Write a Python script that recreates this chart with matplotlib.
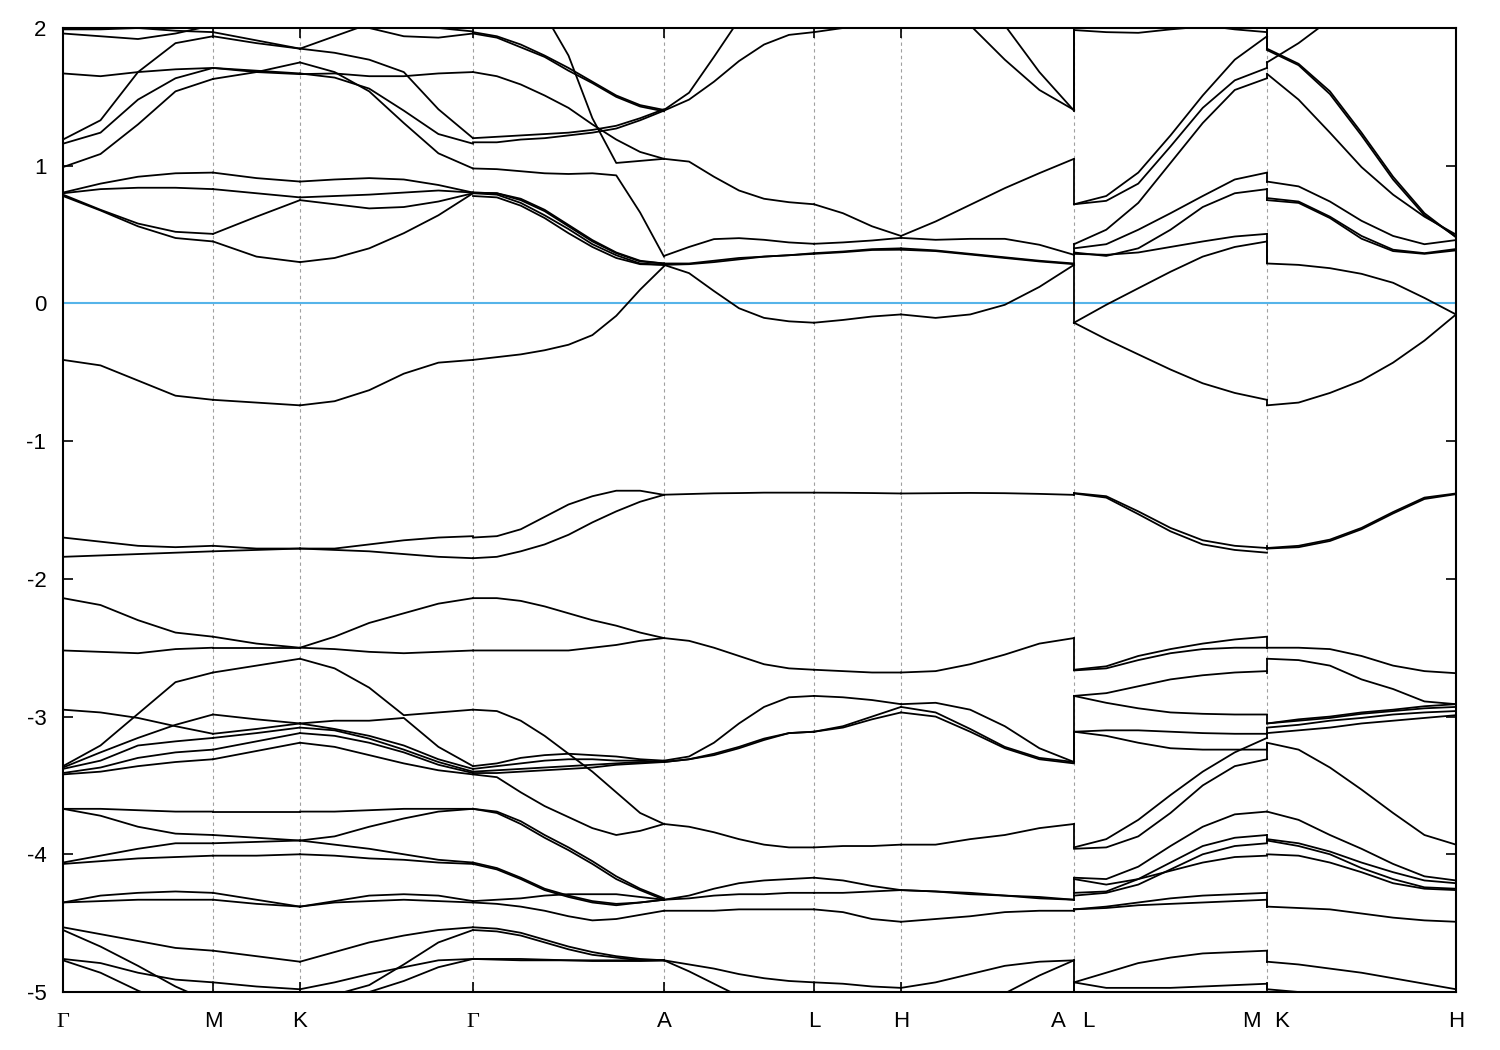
"""Fig: electronic band structure along the hexagonal path G-M-K-G-A-L-H-A|L-M|K-H.

Values read off the reference plot, stored per path segment: each segment has a
list of sampling fractions and a list of bands (energies in eV at those samples).
"""

import matplotlib

matplotlib.use("Agg")
import matplotlib.pyplot as plt
import numpy as np

# High-symmetry points: position along the path (arbitrary units) and labels
K_POS = [0, 150, 237, 410, 601, 751, 838, 1011, 1204, 1393]
K_LABELS = ["Γ", "M", "K", "Γ", "A", "L", "H", "A|L", "M|K", "H"]

Y_TICKS = [2, 1, 0, -1, -2, -3, -4, -5]

# ---- segment G-M ----
GM_F = [0, 0.25, 0.5, 0.75, 1]
GM_E = [
    [0.78, 0.675, 0.56, 0.475, 0.45],
    [0.79, 0.68, 0.58, 0.52, 0.505],
    [0.80, 0.83, 0.84, 0.84, 0.83],
    [0.805, 0.87, 0.92, 0.945, 0.95],
    [0.99, 1.085, 1.30, 1.54, 1.63],
    [1.16, 1.24, 1.48, 1.635, 1.71],
    [1.19, 1.33, 1.68, 1.89, 1.94],
    [1.67, 1.65, 1.68, 1.70, 1.71],
    [1.96, 1.94, 1.92, 1.96, 2.02],
    [2.05, 2.02, 2.00, 1.98, 1.97],
    [1.99, 1.99, 2.00, 2.03, 2.06],
    [-0.41, -0.45, -0.56, -0.67, -0.70],
    [-1.70, -1.73, -1.76, -1.77, -1.76],
    [-1.84, -1.83, -1.82, -1.81, -1.80],
    [-2.14, -2.19, -2.30, -2.39, -2.42],
    [-2.52, -2.53, -2.54, -2.51, -2.50],
    [-3.36, -3.21, -2.98, -2.75, -2.68],
    [-2.95, -2.97, -3.01, -3.07, -3.125],
    [-3.37, -3.26, -3.155, -3.06, -2.985],
    [-3.38, -3.32, -3.21, -3.18, -3.155],
    [-3.41, -3.37, -3.30, -3.26, -3.24],
    [-3.42, -3.40, -3.36, -3.33, -3.31],
    [-3.67, -3.67, -3.68, -3.69, -3.69],
    [-3.67, -3.72, -3.80, -3.85, -3.86],
    [-4.06, -4.01, -3.96, -3.92, -3.92],
    [-4.07, -4.05, -4.03, -4.02, -4.01],
    [-4.35, -4.30, -4.28, -4.27, -4.28],
    [-4.35, -4.34, -4.33, -4.33, -4.33],
    [-4.53, -4.58, -4.63, -4.68, -4.70],
    [-4.55, -4.67, -4.81, -4.96, -5.08],
    [-4.76, -4.79, -4.86, -4.91, -4.93],
    [-4.77, -4.86, -4.99, -5.10, -5.15],
]

# ---- segment M-K ----
MK_F = [0, 0.5, 1]
MK_E = [
    [0.45, 0.34, 0.30],
    [0.505, 0.63, 0.75],
    [0.83, 0.80, 0.77],
    [0.95, 0.91, 0.885],
    [1.63, 1.68, 1.75],
    [1.71, 1.69, 1.67],
    [1.71, 1.68, 1.665],
    [1.94, 1.89, 1.85],
    [1.97, 1.91, 1.85],
    [-0.70, -0.72, -0.74],
    [-1.76, -1.78, -1.78],
    [-1.80, -1.79, -1.78],
    [-2.42, -2.47, -2.50],
    [-2.50, -2.50, -2.50],
    [-2.68, -2.63, -2.58],
    [-2.985, -3.02, -3.05],
    [-3.125, -3.09, -3.05],
    [-3.155, -3.12, -3.08],
    [-3.24, -3.18, -3.12],
    [-3.31, -3.25, -3.19],
    [-3.69, -3.69, -3.69],
    [-3.86, -3.88, -3.90],
    [-3.92, -3.91, -3.90],
    [-4.01, -4.01, -4.00],
    [-4.28, -4.33, -4.38],
    [-4.33, -4.36, -4.38],
    [-4.70, -4.74, -4.78],
    [-4.93, -4.96, -4.98],
    [-5.08, -5.04, -5.00],
]

# ---- segment K-G ----
KG_F = [0, 0.2, 0.4, 0.6, 0.8, 1]
KG_E = [
    [0.30, 0.33, 0.40, 0.51, 0.64, 0.80],
    [0.75, 0.72, 0.69, 0.70, 0.74, 0.80],
    [0.77, 0.78, 0.79, 0.805, 0.82, 0.805],
    [0.885, 0.90, 0.91, 0.90, 0.86, 0.805],
    [1.75, 1.68, 1.54, 1.31, 1.09, 0.98],
    [1.67, 1.64, 1.56, 1.40, 1.23, 1.16],
    [1.665, 1.67, 1.65, 1.65, 1.67, 1.68],
    [1.85, 1.82, 1.77, 1.68, 1.41, 1.20],
    [1.85, 1.94, 2.03, 2.10, 2.10, 2.10],
    [2.10, 2.06, 2.00, 1.94, 1.93, 1.96],
    [2.15, 2.12, 2.08, 2.03, 2.00, 1.975],
    [-0.74, -0.71, -0.63, -0.51, -0.43, -0.41],
    [-1.78, -1.78, -1.75, -1.72, -1.70, -1.69],
    [-1.78, -1.79, -1.80, -1.82, -1.84, -1.85],
    [-2.50, -2.42, -2.32, -2.25, -2.18, -2.14],
    [-2.50, -2.51, -2.53, -2.54, -2.53, -2.52],
    [-2.58, -2.65, -2.79, -2.99, -2.97, -2.95],
    [-3.05, -3.03, -3.03, -3.01, -3.22, -3.36],
    [-3.05, -3.09, -3.14, -3.21, -3.31, -3.38],
    [-3.08, -3.10, -3.16, -3.24, -3.33, -3.40],
    [-3.12, -3.14, -3.19, -3.26, -3.35, -3.41],
    [-3.19, -3.22, -3.28, -3.34, -3.39, -3.42],
    [-3.69, -3.69, -3.68, -3.67, -3.67, -3.67],
    [-3.90, -3.87, -3.80, -3.74, -3.69, -3.67],
    [-3.90, -3.93, -3.96, -4.00, -4.04, -4.06],
    [-4.00, -4.01, -4.03, -4.04, -4.06, -4.07],
    [-4.38, -4.34, -4.30, -4.29, -4.30, -4.34],
    [-4.38, -4.35, -4.34, -4.33, -4.34, -4.35],
    [-4.78, -4.71, -4.64, -4.59, -4.55, -4.53],
    [-5.05, -5.02, -4.95, -4.80, -4.64, -4.55],
    [-4.98, -4.93, -4.87, -4.82, -4.77, -4.76],
    [-5.00, -5.04, -5.00, -4.92, -4.82, -4.76],
]

# ---- segment G-A ----
GA_F = [0, 0.125, 0.25, 0.375, 0.5, 0.625, 0.75, 0.875, 1]
GA_E = [
    [0.805, 0.80, 0.75, 0.67, 0.56, 0.45, 0.365, 0.305, 0.29],
    [0.80, 0.79, 0.73, 0.64, 0.54, 0.43, 0.35, 0.29, 0.28],
    [0.78, 0.77, 0.71, 0.62, 0.51, 0.41, 0.33, 0.285, 0.28],
    [0.805, 0.80, 0.76, 0.68, 0.57, 0.46, 0.37, 0.31, 0.29],
    [0.98, 0.975, 0.96, 0.945, 0.94, 0.945, 0.93, 0.66, 0.34],
    [2.70, 2.55, 2.35, 2.10, 1.80, 1.345, 1.02, 1.035, 1.05],
    [-0.41, -0.39, -0.37, -0.34, -0.30, -0.23, -0.09, 0.10, 0.27],
    [1.17, 1.17, 1.19, 1.20, 1.22, 1.24, 1.27, 1.33, 1.40],
    [1.20, 1.21, 1.22, 1.23, 1.24, 1.26, 1.29, 1.345, 1.41],
    [1.68, 1.65, 1.59, 1.51, 1.42, 1.30, 1.19, 1.10, 1.05],
    [1.97, 1.94, 1.88, 1.80, 1.71, 1.61, 1.51, 1.44, 1.405],
    [1.96, 1.93, 1.86, 1.79, 1.69, 1.60, 1.50, 1.43, 1.395],
    [-1.70, -1.69, -1.64, -1.55, -1.46, -1.40, -1.36, -1.36, -1.39],
    [-1.85, -1.84, -1.80, -1.75, -1.68, -1.59, -1.51, -1.44, -1.39],
    [-2.14, -2.14, -2.16, -2.20, -2.25, -2.30, -2.34, -2.39, -2.43],
    [-2.52, -2.52, -2.52, -2.52, -2.52, -2.50, -2.48, -2.45, -2.43],
    [-2.95, -2.96, -3.03, -3.14, -3.27, -3.40, -3.55, -3.70, -3.78],
    [-3.36, -3.34, -3.30, -3.28, -3.27, -3.28, -3.29, -3.31, -3.32],
    [-3.38, -3.36, -3.34, -3.32, -3.31, -3.31, -3.32, -3.32, -3.33],
    [-3.40, -3.39, -3.38, -3.37, -3.36, -3.35, -3.34, -3.33, -3.33],
    [-3.41, -3.41, -3.40, -3.39, -3.38, -3.37, -3.35, -3.34, -3.33],
    [-3.42, -3.44, -3.55, -3.65, -3.73, -3.81, -3.86, -3.83, -3.78],
    [-3.67, -3.69, -3.76, -3.86, -3.95, -4.05, -4.16, -4.25, -4.32],
    [-3.67, -3.70, -3.78, -3.88, -3.97, -4.07, -4.18, -4.26, -4.33],
    [-4.06, -4.10, -4.17, -4.25, -4.30, -4.34, -4.36, -4.35, -4.33],
    [-4.07, -4.11, -4.18, -4.26, -4.31, -4.35, -4.37, -4.35, -4.33],
    [-4.34, -4.33, -4.32, -4.30, -4.29, -4.29, -4.29, -4.31, -4.33],
    [-4.35, -4.36, -4.38, -4.41, -4.45, -4.48, -4.47, -4.44, -4.41],
    [-4.53, -4.54, -4.57, -4.62, -4.67, -4.71, -4.74, -4.76, -4.77],
    [-4.55, -4.56, -4.59, -4.64, -4.69, -4.73, -4.75, -4.77, -4.77],
    [-4.76, -4.76, -4.76, -4.765, -4.77, -4.77, -4.77, -4.77, -4.77],
    [-4.76, -4.765, -4.77, -4.77, -4.77, -4.775, -4.775, -4.775, -4.77],
]

# ---- segment A-L ----
AL_F = [0, 0.167, 0.333, 0.5, 0.667, 0.833, 1]
AL_E = [
    [1.405, 1.53, 1.79, 2.06, 2.30, 2.50, 2.60],
    [1.40, 1.48, 1.61, 1.76, 1.88, 1.95, 1.97],
    [1.05, 1.03, 0.92, 0.82, 0.76, 0.735, 0.72],
    [0.345, 0.41, 0.467, 0.474, 0.462, 0.443, 0.433],
    [0.29, 0.29, 0.31, 0.33, 0.34, 0.35, 0.365],
    [0.28, 0.285, 0.30, 0.32, 0.34, 0.35, 0.36],
    [0.28, 0.22, 0.09, -0.035, -0.105, -0.13, -0.14],
    [-1.389, -1.384, -1.379, -1.377, -1.374, -1.374, -1.374],
    [-2.43, -2.45, -2.50, -2.56, -2.62, -2.65, -2.66],
    [-3.32, -3.29, -3.19, -3.05, -2.93, -2.86, -2.85],
    [-3.33, -3.31, -3.28, -3.23, -3.17, -3.12, -3.11],
    [-3.33, -3.31, -3.27, -3.22, -3.16, -3.12, -3.11],
    [-3.78, -3.80, -3.84, -3.89, -3.93, -3.95, -3.95],
    [-4.33, -4.30, -4.25, -4.21, -4.19, -4.18, -4.17],
    [-4.33, -4.32, -4.30, -4.29, -4.29, -4.28, -4.28],
    [-4.41, -4.41, -4.41, -4.40, -4.40, -4.40, -4.40],
    [-4.77, -4.80, -4.83, -4.87, -4.90, -4.92, -4.93],
    [-4.77, -4.85, -4.94, -5.03, -5.10, -5.15, -5.15],
]

# ---- segment L-H ----
LH_F = [0, 0.333, 0.667, 1]
LH_E = [
    [0.72, 0.655, 0.56, 0.49],
    [0.433, 0.443, 0.457, 0.476],
    [0.365, 0.377, 0.394, 0.40],
    [0.36, 0.372, 0.388, 0.39],
    [-0.14, -0.12, -0.095, -0.08],
    [1.97, 2.00, 2.05, 2.10],
    [-1.374, -1.375, -1.377, -1.38],
    [-2.66, -2.67, -2.68, -2.68],
    [-2.85, -2.86, -2.88, -2.91],
    [-3.11, -3.07, -3.00, -2.93],
    [-3.11, -3.08, -3.02, -2.97],
    [-3.95, -3.94, -3.94, -3.93],
    [-4.17, -4.19, -4.23, -4.26],
    [-4.28, -4.28, -4.27, -4.26],
    [-4.40, -4.42, -4.47, -4.49],
    [-4.93, -4.94, -4.96, -4.97],
]

# ---- segment H-A ----
HA_F = [0, 0.2, 0.4, 0.6, 0.8, 1]
HA_E = [
    [0.49, 0.595, 0.716, 0.837, 0.946, 1.05],
    [0.476, 0.462, 0.469, 0.469, 0.426, 0.353],
    [0.40, 0.385, 0.36, 0.335, 0.31, 0.29],
    [0.39, 0.38, 0.355, 0.33, 0.305, 0.285],
    [-0.08, -0.105, -0.08, -0.01, 0.12, 0.28],
    [2.60, 2.35, 2.02, 1.77, 1.55, 1.405],
    [2.80, 2.60, 2.30, 2.02, 1.68, 1.40],
    [-1.38, -1.378, -1.376, -1.378, -1.383, -1.39],
    [-2.68, -2.67, -2.62, -2.55, -2.47, -2.43],
    [-2.91, -2.90, -2.95, -3.07, -3.23, -3.33],
    [-2.93, -2.97, -3.09, -3.22, -3.30, -3.33],
    [-2.97, -3.00, -3.11, -3.23, -3.31, -3.34],
    [-3.93, -3.93, -3.89, -3.86, -3.81, -3.78],
    [-4.26, -4.27, -4.29, -4.30, -4.32, -4.33],
    [-4.26, -4.27, -4.28, -4.30, -4.31, -4.33],
    [-4.49, -4.47, -4.45, -4.42, -4.41, -4.41],
    [-4.97, -4.93, -4.87, -4.81, -4.78, -4.77],
    [-5.30, -5.20, -5.10, -5.01, -4.88, -4.77],
]

# ---- segment L-M ----
LM_F = [0, 0.167, 0.333, 0.5, 0.667, 0.833, 1]
LM_E = [
    [0.72, 0.78, 0.95, 1.22, 1.51, 1.77, 1.94],
    [0.72, 0.745, 0.87, 1.14, 1.42, 1.62, 1.71],
    [0.43, 0.535, 0.73, 1.02, 1.31, 1.55, 1.635],
    [0.40, 0.43, 0.535, 0.655, 0.78, 0.90, 0.95],
    [0.37, 0.345, 0.40, 0.535, 0.70, 0.80, 0.83],
    [0.36, 0.353, 0.37, 0.41, 0.45, 0.486, 0.505],
    [-0.14, -0.01, 0.11, 0.23, 0.34, 0.41, 0.45],
    [-0.14, -0.26, -0.37, -0.48, -0.58, -0.65, -0.70],
    [1.985, 1.97, 1.965, 1.99, 2.01, 2.03, 2.05],
    [2.20, 2.15, 2.10, 2.05, 2.02, 1.99, 1.97],
    [-1.377, -1.40, -1.51, -1.63, -1.72, -1.76, -1.776],
    [-1.38, -1.41, -1.53, -1.655, -1.75, -1.79, -1.81],
    [-2.66, -2.635, -2.56, -2.51, -2.47, -2.44, -2.42],
    [-2.665, -2.65, -2.59, -2.54, -2.51, -2.50, -2.50],
    [-2.85, -2.83, -2.78, -2.73, -2.70, -2.68, -2.67],
    [-2.85, -2.90, -2.94, -2.97, -2.98, -2.985, -2.985],
    [-3.11, -3.10, -3.10, -3.11, -3.12, -3.125, -3.125],
    [-3.11, -3.14, -3.19, -3.23, -3.24, -3.24, -3.24],
    [-3.95, -3.89, -3.75, -3.57, -3.40, -3.26, -3.155],
    [-3.96, -3.95, -3.87, -3.70, -3.50, -3.36, -3.31],
    [-4.17, -4.18, -4.09, -3.94, -3.80, -3.71, -3.69],
    [-4.28, -4.27, -4.18, -4.06, -3.94, -3.88, -3.86],
    [-4.30, -4.28, -4.22, -4.11, -4.00, -3.94, -3.92],
    [-4.18, -4.22, -4.18, -4.12, -4.06, -4.02, -4.01],
    [-4.40, -4.38, -4.35, -4.32, -4.30, -4.29, -4.28],
    [-4.40, -4.39, -4.37, -4.36, -4.35, -4.34, -4.33],
    [-4.93, -4.86, -4.79, -4.75, -4.72, -4.71, -4.70],
    [-4.93, -4.97, -4.97, -4.97, -4.96, -4.95, -4.94],
]

# ---- segment K-H ----
KH_F = [0, 0.167, 0.333, 0.5, 0.667, 0.833, 1]
KH_E = [
    [1.85, 1.74, 1.54, 1.24, 0.92, 0.655, 0.48],
    [1.84, 1.73, 1.52, 1.22, 0.90, 0.64, 0.485],
    [1.667, 1.48, 1.24, 0.99, 0.79, 0.63, 0.50],
    [1.75, 1.89, 2.06, 2.20, 2.30, 2.35, 2.40],
    [0.885, 0.85, 0.74, 0.60, 0.49, 0.43, 0.46],
    [0.765, 0.74, 0.63, 0.49, 0.39, 0.365, 0.395],
    [0.75, 0.73, 0.62, 0.47, 0.38, 0.36, 0.385],
    [0.29, 0.28, 0.256, 0.215, 0.15, 0.04, -0.08],
    [-0.74, -0.72, -0.65, -0.56, -0.43, -0.27, -0.08],
    [-1.776, -1.76, -1.715, -1.63, -1.515, -1.41, -1.38],
    [-1.78, -1.77, -1.725, -1.64, -1.525, -1.42, -1.385],
    [-2.50, -2.50, -2.51, -2.56, -2.63, -2.67, -2.685],
    [-2.58, -2.59, -2.63, -2.73, -2.80, -2.89, -2.91],
    [-3.05, -3.02, -3.00, -2.97, -2.95, -2.925, -2.91],
    [-3.05, -3.03, -3.01, -2.98, -2.96, -2.94, -2.93],
    [-3.08, -3.06, -3.03, -3.01, -2.985, -2.97, -2.96],
    [-3.12, -3.10, -3.08, -3.05, -3.03, -3.01, -2.99],
    [-3.19, -3.24, -3.37, -3.53, -3.70, -3.86, -3.93],
    [-3.69, -3.75, -3.86, -3.96, -4.07, -4.16, -4.19],
    [-3.89, -3.92, -3.98, -4.06, -4.13, -4.19, -4.21],
    [-3.90, -3.94, -4.00, -4.10, -4.18, -4.24, -4.25],
    [-4.00, -4.01, -4.06, -4.13, -4.21, -4.25, -4.26],
    [-4.38, -4.39, -4.40, -4.43, -4.46, -4.48, -4.49],
    [-4.78, -4.80, -4.83, -4.86, -4.90, -4.94, -4.98],
    [-4.98, -5.00, -5.05, -5.10, -5.10, -5.05, -5.00],
]

# Band jumps drawn at the path discontinuities (energy before -> after)
AL_FROM = [1.405, 1.40, 1.05, 0.353, 0.29, 0.28, -1.39, -2.43, -3.33, -3.33,
           -3.78, -4.33, -4.41, -4.77]
AL_TO = [2.10, 1.985, 0.72, 0.43, 0.37, -0.14, -1.377, -2.66, -2.85, -3.11,
         -3.95, -4.17, -4.40, -5.20]
MK_FROM = [2.20, 1.97, 1.71, 1.635, 0.95, 0.83, 0.505, 0.45, -0.70, -1.76,
           -2.42, -2.68, -2.985, -3.125, -3.155, -3.24, -3.31, -3.86, -3.92,
           -4.28, -4.33, -4.70, -4.94]
MK_TO = [1.85, 1.85, 1.75, 1.667, 0.885, 0.75, 0.29, 0.29, -0.74, -1.78,
         -2.50, -2.58, -3.05, -3.08, -3.12, -3.19, -3.19, -3.90, -3.90,
         -4.38, -4.38, -4.78, -4.98]

SEGMENTS = [
    (0, 1, GM_F, GM_E),
    (1, 2, MK_F, MK_E),
    (2, 3, KG_F, KG_E),
    (3, 4, GA_F, GA_E),
    (4, 5, AL_F, AL_E),
    (5, 6, LH_F, LH_E),
    (6, 7, HA_F, HA_E),
    (7, 8, LM_F, LM_E),
    (8, 9, KH_F, KH_E),
]

FONT = "Liberation Sans"
SERIF = "Liberation Serif"
FS = 16


def main():
    plt.rcParams["font.family"] = [FONT, "DejaVu Sans"]
    fig = plt.figure(figsize=(15, 10.5), dpi=100)
    ax = fig.add_axes([63 / 1500, 58 / 1050, 1393 / 1500, 964 / 1050])

    line_kw = dict(color="black", lw=1.3, solid_joinstyle="round", zorder=3)

    for i0, i1, fracs, bands in SEGMENTS:
        k0, k1 = K_POS[i0], K_POS[i1]
        ks = k0 + np.asarray(fracs) * (k1 - k0)
        for band in bands:
            ax.plot(ks, band, **line_kw)

    for k, e_from, e_to in [(K_POS[7], AL_FROM, AL_TO), (K_POS[8], MK_FROM, MK_TO)]:
        for a, b in zip(e_from, e_to):
            ax.plot([k, k], [a, b], **line_kw)

    # Fermi level and high-symmetry guide lines
    ax.axhline(0, color="#56b4e9", lw=1.5, zorder=2)
    for k in K_POS[1:-1]:
        ax.axvline(k, color="#a0a0a0", lw=0.8, ls=(0, (3, 3)), zorder=1)

    ax.set_xlim(K_POS[0], K_POS[-1])
    ax.set_ylim(-5, 2)

    ax.set_yticks(Y_TICKS)
    ax.set_yticklabels([str(v) for v in Y_TICKS], fontsize=FS)
    ax.set_xticks(K_POS)
    ax.set_xticklabels([])
    ax.tick_params(axis="both", direction="in", length=7, width=1.2,
                   top=True, right=True, pad=12)

    # x labels: serif Gamma, split labels at the path breaks
    for k, lab in zip(K_POS, K_LABELS):
        parts = lab.split("|")
        offsets = [0] if len(parts) == 1 else [-11, 10.5]
        for part, dx in zip(parts, offsets):
            fam = [SERIF, "DejaVu Serif"] if part == "Γ" else [FONT, "DejaVu Sans"]
            ax.annotate(part, xy=(k, 0), xycoords=("data", "axes fraction"),
                        xytext=(dx, -25), textcoords="offset points",
                        ha="center", va="baseline", fontsize=FS, family=fam)

    for sp in ax.spines.values():
        sp.set_linewidth(1.5)
        sp.set_zorder(4)

    fig.savefig("out.png", dpi=100)
    plt.close(fig)


if __name__ == "__main__":
    main()
